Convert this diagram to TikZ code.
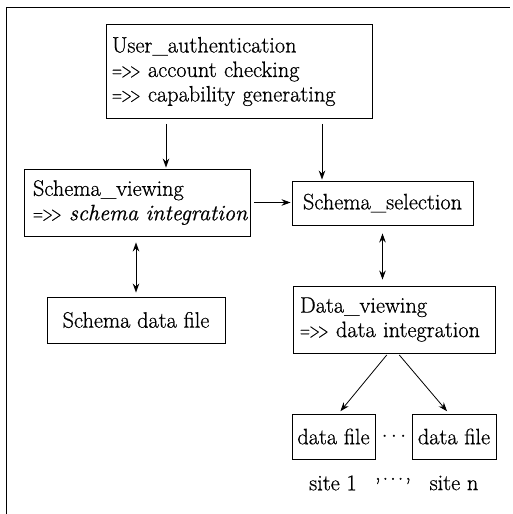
\documentclass[tikz,border=0pt]{standalone}
\usepackage{graphicx}
\usepackage{fontspec}
\setmainfont{Latin Modern Roman}[FakeBold=0.7]
\usetikzlibrary{arrows.meta}
\newcommand\impl{\scalebox{0.62}[0.9]{=\kern-1pt>\kern-3pt>}}
\begin{document}
\begin{tikzpicture}[x=1pt,y=-1pt,
  txt/.style={inner sep=0pt, font=\fontsize{22.3}{24.5}\selectfont},
  box/.style={txt, draw, line width=0.9pt},
  lbox/.style={box, align=left},
  arr/.style={-{Stealth[length=9pt,width=6.5pt]}, line width=0.8pt},
  darr/.style={{Stealth[length=9pt,width=6.5pt]}-{Stealth[length=9pt,width=6.5pt]}, line width=0.8pt}]
\useasboundingbox (0,0) rectangle (512,514);
\draw[line width=1pt] (6,514) -- (6,7) -- (510,7);

\node[lbox, minimum width=266pt, minimum height=94pt, text width=254pt] (ua) at (239,71.5)
  {\mbox{User\_authentication}\\ \mbox{\impl{} account checking}\\ \mbox{\impl{} capability generating}};
\node[lbox, minimum width=226pt, minimum height=67pt, text width=208pt] (sv) at (137,202.5)
  {\mbox{Schema\_viewing}\\ \mbox{\impl{} \textit{schema integration}}};
\node[box, minimum width=181pt, minimum height=44pt] (ss) at (382.5,203) {Schema\_selection};
\node[box, minimum width=178pt, minimum height=46pt] (sdf) at (136,320) {Schema data file};
\node[lbox, minimum width=202pt, minimum height=67pt, text width=188pt] (dv) at (394,319.5)
  {\mbox{Data\_viewing}\\ \mbox{\impl{} data integration}};
\node[box, minimum width=83pt, minimum height=45pt] (df1) at (333.5,436.5) {data file};
\node[box, minimum width=84pt, minimum height=45pt] (df2) at (454,436.5) {data file};
\node[txt] (dots) at (394,437) {$\cdots$};
\node[txt] (s1) at (333,483) {site 1};
\node[txt] (sdots) at (393,481) {,\kern2pt.\kern2pt.\kern2pt.\kern2pt,};
\node[txt] (sn) at (454,483) {site n};

\draw[arr, shorten <=5pt, shorten >=1pt] ([xshift=-73pt]ua.south) -- ([xshift=29pt]sv.north);
\draw[arr, shorten <=5pt, shorten >=1pt] ([xshift=83pt]ua.south) -- ([xshift=-60.5pt]ss.north);
\draw[arr, shorten <=4pt, shorten >=1pt] (sv.east) -- (sv.east -| ss.west);
\draw[darr, shorten <=6pt, shorten >=4pt] (sdf.north |- sv.south) -- (sdf.north);
\draw[darr, shorten <=8pt, shorten >=6pt] (ss.south) -- (ss.south |- dv.north);
\draw[arr, shorten <=2pt, shorten >=3pt] ([xshift=-6pt]dv.south) -- ([xshift=5pt]df1.north);
\draw[arr, shorten <=2pt, shorten >=3pt] ([xshift=4pt]dv.south) -- ([xshift=-5pt]df2.north);
\end{tikzpicture}
\end{document}
